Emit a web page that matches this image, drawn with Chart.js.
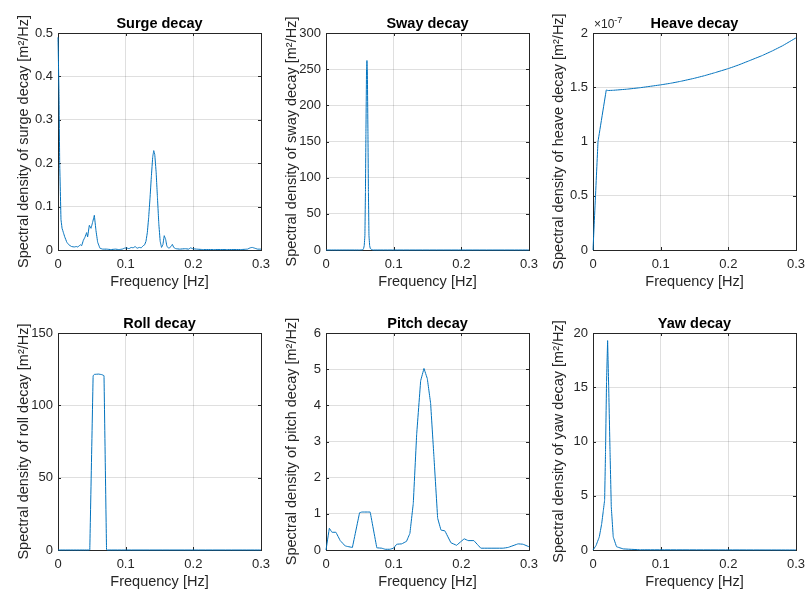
<!DOCTYPE html>
<html>
<head>
<meta charset="utf-8">
<script src="https://cdn.jsdelivr.net/npm/chart.js@4/dist/chart.umd.min.js"></script>
<style>
body { margin: 0; background: #fff; width: 809px; height: 596px; overflow: hidden; position: relative; }
canvas { position: absolute; }
</style>
</head>
<body>
<script>
// frequency ticks shared by all panels
const xTickVals = [0, 0.1, 0.2, 0.3];
const xTickLabels = ['0', '0.1', '0.2', '0.3'];

// Surge
const surgeFreq = [0, 0.0015, 0.0025, 0.0044, 0.006, 0.008, 0.010, 0.013, 0.016, 0.020, 0.024, 0.027, 0.029, 0.031, 0.033, 0.035, 0.0374, 0.040, 0.0423, 0.0438, 0.0463, 0.0488, 0.0512, 0.0537, 0.0561, 0.0586, 0.062, 0.066, 0.072, 0.078, 0.085, 0.090, 0.095, 0.098, 0.101, 0.105, 0.108, 0.111, 0.114, 0.117, 0.120, 0.123, 0.126, 0.128, 0.130, 0.132, 0.134, 0.136, 0.138, 0.140, 0.1415, 0.143, 0.145, 0.147, 0.149, 0.151, 0.153, 0.155, 0.157, 0.159, 0.161, 0.164, 0.167, 0.169, 0.171, 0.174, 0.180, 0.188, 0.193, 0.196, 0.199, 0.205, 0.215, 0.230, 0.250, 0.270, 0.280, 0.284, 0.287, 0.291, 0.295, 0.300];
const surgeVal = [0.49, 0.36, 0.20, 0.07, 0.05, 0.04, 0.03, 0.018, 0.012, 0.008, 0.007, 0.008, 0.007, 0.009, 0.012, 0.010, 0.022, 0.030, 0.040, 0.030, 0.057, 0.050, 0.064, 0.080, 0.045, 0.018, 0.004, 0.002, 0.002, 0.001, 0.002, 0.001, 0.002, 0.004, 0.005, 0.003, 0.006, 0.005, 0.008, 0.004, 0.006, 0.005, 0.010, 0.012, 0.020, 0.040, 0.075, 0.120, 0.170, 0.215, 0.229, 0.220, 0.180, 0.120, 0.060, 0.020, 0.006, 0.012, 0.033, 0.025, 0.008, 0.004, 0.008, 0.013, 0.006, 0.003, 0.002, 0.003, 0.002, 0.005, 0.003, 0.002, 0.001, 0.001, 0.001, 0.001, 0.002, 0.005, 0.006, 0.004, 0.002, 0.002];

// Sway
const swayFreq = [0, 0.050, 0.0545, 0.0555, 0.0565, 0.0575, 0.0583, 0.059, 0.0599, 0.0605, 0.0611, 0.062, 0.0627, 0.0635, 0.0645, 0.0655, 0.068, 0.070, 0.300];
const swayVal = [0, 0, 0.3, 2, 6, 20, 80, 160, 250, 262, 250, 160, 80, 20, 6, 2, 0.3, 0, 0];

// Heave
const heaveFreq = [0, 0.0074, 0.0196, 0.022, 0.030, 0.050, 0.070, 0.085, 0.100, 0.115, 0.130, 0.150, 0.165, 0.180, 0.200, 0.215, 0.230, 0.250, 0.265, 0.280, 0.300];
const heaveVal = [0, 1.0e-7, 1.475e-7, 1.47e-7, 1.472e-7, 1.482e-7, 1.496e-7, 1.509e-7, 1.522e-7, 1.537e-7, 1.555e-7, 1.583e-7, 1.607e-7, 1.634e-7, 1.672e-7, 1.705e-7, 1.742e-7, 1.792e-7, 1.835e-7, 1.882e-7, 1.955e-7];

// Roll
const rollFreq = [0, 0.0465, 0.047, 0.0519, 0.054, 0.060, 0.065, 0.068, 0.0717, 0.073, 0.300];
const rollVal = [0, 0, 0.3, 120.5, 121.4, 121.6, 121.2, 120.5, 0.3, 0, 0];

// Pitch
const pitchFreq = [0, 0.0049, 0.0088, 0.0147, 0.021, 0.0285, 0.039, 0.0496, 0.053, 0.0653, 0.0751, 0.0825, 0.0874, 0.0947, 0.0997, 0.1046, 0.112, 0.119, 0.124, 0.129, 0.134, 0.1399, 0.1448, 0.1497, 0.1546, 0.1595, 0.165, 0.1699, 0.1757, 0.1846, 0.193, 0.2042, 0.21, 0.2185, 0.2288, 0.2617, 0.269, 0.2838, 0.2911, 0.300];
const pitchVal = [0, 0.60, 0.49, 0.49, 0.26, 0.11, 0.07, 1.03, 1.05, 1.05, 0.06, 0.05, 0.02, 0.02, 0.05, 0.16, 0.17, 0.24, 0.46, 1.29, 3.2, 4.68, 5.02, 4.74, 4.06, 2.58, 0.88, 0.55, 0.53, 0.20, 0.13, 0.31, 0.26, 0.26, 0.05, 0.05, 0.07, 0.17, 0.16, 0.09];

// Yaw
const yawFreq = [0, 0.0044, 0.0093, 0.0128, 0.0152, 0.0172, 0.0185, 0.0200, 0.0216, 0.0232, 0.0252, 0.027, 0.0299, 0.0348, 0.0447, 0.070, 0.300];
const yawVal = [0, 0.4, 1.2, 2.4, 3.6, 4.6, 9.0, 15.5, 19.3, 15.0, 9.0, 4.0, 1.2, 0.3, 0.1, 0.02, 0];

// y tick values / labels per panel
const surgeYTicks = [0, 0.1, 0.2, 0.3, 0.4, 0.5];
const surgeYLabels = ['0', '0.1', '0.2', '0.3', '0.4', '0.5'];
const swayYTicks = [0, 50, 100, 150, 200, 250, 300];
const swayYLabels = ['0', '50', '100', '150', '200', '250', '300'];
const heaveYTicks = [0, 0.5e-7, 1e-7, 1.5e-7, 2e-7];
const heaveYLabels = ['0', '0.5', '1', '1.5', '2'];
const rollYTicks = [0, 50, 100, 150];
const rollYLabels = ['0', '50', '100', '150'];
const pitchYTicks = [0, 1, 2, 3, 4, 5, 6];
const pitchYLabels = ['0', '1', '2', '3', '4', '5', '6'];
const yawYTicks = [0, 5, 10, 15, 20];
const yawYLabels = ['0', '5', '10', '15', '20'];

const FONT = "'Liberation Sans', Arial, Helvetica, sans-serif";
const AXIS = '#262626';
const LINE = '#0072BD';

const panels = [
    { title: 'Surge decay', name: 'surge', f: surgeFreq, v: surgeVal, yt: surgeYTicks, yl: surgeYLabels, left: 58, top: 33 },
    { title: 'Sway decay', name: 'sway', f: swayFreq, v: swayVal, yt: swayYTicks, yl: swayYLabels, left: 326, top: 33 },
    { title: 'Heave decay', name: 'heave', f: heaveFreq, v: heaveVal, yt: heaveYTicks, yl: heaveYLabels, left: 593, top: 33, exp: '-7' },
    { title: 'Roll decay', name: 'roll', f: rollFreq, v: rollVal, yt: rollYTicks, yl: rollYLabels, left: 58, top: 333 },
    { title: 'Pitch decay', name: 'pitch', f: pitchFreq, v: pitchVal, yt: pitchYTicks, yl: pitchYLabels, left: 326, top: 333 },
    { title: 'Yaw decay', name: 'yaw', f: yawFreq, v: yawVal, yt: yawYTicks, yl: yawYLabels, left: 593, top: 333 }
];

// box, inward ticks, bold title and exponent label, like the MATLAB axes
const framePlugin = {
    id: 'frame',
    beforeDatasetsDraw(chart) {
        const { ctx, chartArea: a, scales: { x, y } } = chart;
        ctx.save();
        ctx.strokeStyle = AXIS;
        ctx.lineWidth = 1;
        ctx.beginPath();
        x.ticks.forEach(t => {
            const px = Math.round(x.getPixelForValue(t.value)) + 0.5;
            ctx.moveTo(px, a.bottom); ctx.lineTo(px, a.bottom - 3);
            ctx.moveTo(px, a.top); ctx.lineTo(px, a.top + 3);
        });
        y.ticks.forEach(t => {
            const py = Math.round(y.getPixelForValue(t.value)) + 0.5;
            ctx.moveTo(a.left, py); ctx.lineTo(a.left + 3, py);
            ctx.moveTo(a.right, py); ctx.lineTo(a.right - 3, py);
        });
        ctx.stroke();
        ctx.strokeRect(Math.round(a.left) + 0.5, Math.round(a.top) + 0.5, Math.round(a.right - a.left), Math.round(a.bottom - a.top));
        ctx.restore();
    },
    afterDraw(chart, args, opts) {
        const { ctx, chartArea: a } = chart;
        ctx.save();
        ctx.fillStyle = '#000';
        ctx.textAlign = 'center';
        ctx.textBaseline = 'alphabetic';
        ctx.font = 'bold 14.5px ' + FONT;
        ctx.fillText(opts.text, (a.left + a.right) / 2, a.top - 5);
        if (opts.exp) {
            ctx.fillStyle = AXIS;
            ctx.textAlign = 'left';
            ctx.font = '12px ' + FONT;
            ctx.fillText('\u00d710', a.left + 1, a.top - 5);
            const w = ctx.measureText('\u00d710').width;
            ctx.font = '9px ' + FONT;
            ctx.fillText(opts.exp, a.left + 1 + w, a.top - 10);
        }
        ctx.restore();
    }
};

panels.forEach(p => {
    const cv = document.createElement('canvas');
    cv.width = 271;
    cv.height = 295;
    cv.style.left = (p.left - 58) + 'px';
    cv.style.top = (p.top - 33) + 'px';
    document.body.appendChild(cv);

    const pts = p.f.map((f, i) => ({ x: f, y: p.v[i] }));

    new Chart(cv, {
        type: 'line',
        data: {
            datasets: [{
                data: pts,
                borderColor: LINE,
                borderWidth: 1,
                pointRadius: 0,
                // tiny tension so chart.js skips its fast path (it merges narrow spikes)
                tension: 0.000001,
                fill: false,
                clip: false
            }]
        },
        options: {
            responsive: false,
            animation: false,
            devicePixelRatio: 1,
            layout: { padding: { top: 33, right: 10, left: 0, bottom: 0 } },
            plugins: {
                legend: { display: false },
                tooltip: { enabled: false },
                frame: { text: p.title, exp: p.exp }
            },
            scales: {
                x: {
                    type: 'linear',
                    min: 0, max: 0.3,
                    afterBuildTicks: s => { s.ticks = xTickVals.map(v => ({ value: v })); },
                    afterFit: s => { s.height = 45; s.paddingLeft = 0; s.paddingRight = 0; },
                    ticks: {
                        color: AXIS,
                        font: { family: FONT, size: 13 },
                        padding: 7,
                        maxRotation: 0,
                        callback: (v, i) => xTickLabels[i]
                    },
                    grid: { color: 'rgba(38,38,38,0.15)', drawTicks: false },
                    border: { display: false },
                    title: {
                        display: true,
                        text: 'Frequency [Hz]',
                        color: AXIS,
                        font: { family: FONT, size: 14.5 },
                        padding: { top: 0, bottom: 4 }
                    }
                },
                y: {
                    type: 'linear',
                    min: p.yt[0], max: p.yt[p.yt.length - 1],
                    afterBuildTicks: s => { s.ticks = p.yt.map(v => ({ value: v })); },
                    afterFit: s => { s.width = 58; s.paddingTop = 0; s.paddingBottom = 0; },
                    ticks: {
                        color: AXIS,
                        font: { family: FONT, size: 13 },
                        padding: 5,
                        callback: (v, i) => p.yl[i]
                    },
                    grid: { color: 'rgba(38,38,38,0.15)', drawTicks: false },
                    border: { display: false },
                    title: {
                        display: true,
                        text: 'Spectral density of ' + p.name + ' decay [m\u00b2/Hz]',
                        color: AXIS,
                        font: { family: FONT, size: 14.5 },
                        padding: { top: 15, bottom: 0 }
                    }
                }
            }
        },
        plugins: [framePlugin]
    });
});
</script>
</body>
</html>
